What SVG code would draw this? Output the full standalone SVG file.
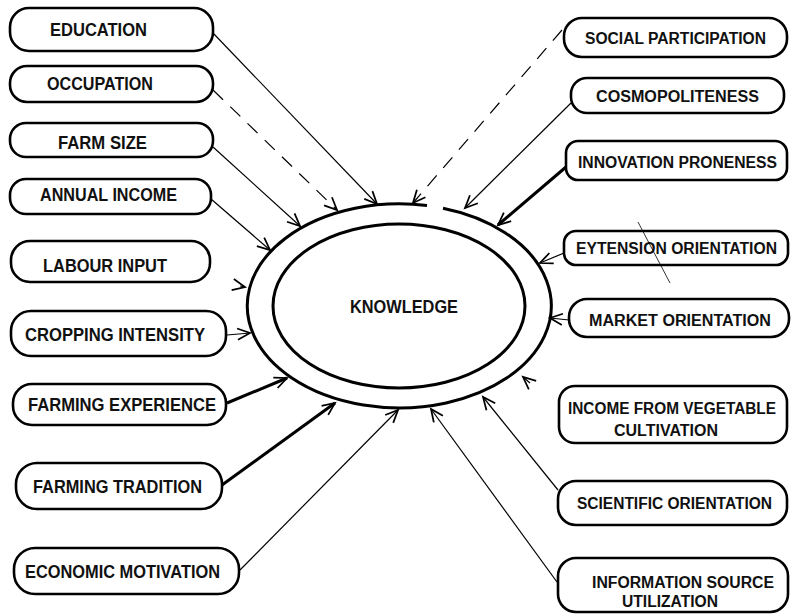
<svg xmlns="http://www.w3.org/2000/svg" width="795" height="614" viewBox="0 0 795 614">
<defs>
<style>
.box{fill:#fff;stroke:#000;stroke-width:2.6}
.t{font-family:"Liberation Sans Narrow","Liberation Sans",Arial,sans-serif;font-weight:bold;font-size:18px;fill:#111}
.r{font-size:16px}
.c{fill:none;stroke:#000;stroke-width:1.2}
.thick{stroke-width:3}
.dash{stroke-dasharray:14 10}
.ring{fill:none;stroke:#000;stroke-width:3}
</style>
<marker id="ah" markerUnits="userSpaceOnUse" markerWidth="20" markerHeight="20" refX="0" refY="0" viewBox="-12 -8 14 16" orient="auto" overflow="visible">
<path d="M-10,-4.5 L0,0 L-10,4.5" fill="none" stroke="#000" stroke-width="1.4"/>
</marker>
</defs>
<rect width="795" height="614" fill="#fff"/>

<g id="knowledge">
<path class="ring" d="M443,208.2 A152,102 0 1 1 427,205.6"/>
<ellipse class="ring" cx="399" cy="306" rx="126" ry="82"/>
<text class="t" x="350" y="313" textLength="108" lengthAdjust="spacingAndGlyphs" font-weight="normal">KNOWLEDGE</text>
</g>

<g id="connectors">
<path class="c" d="M213,33 L377,204" marker-end="url(#ah)"/>
<path class="c dash" d="M213,90 L337,210" marker-end="url(#ah)"/>
<path class="c" d="M213,147 L300,226" marker-end="url(#ah)"/>
<path class="c" d="M211,199 L270,250" marker-end="url(#ah)"/>
<path class="c" d="M240,286 L245,287" marker-end="url(#ah)"/>
<path class="c" d="M227,335 L250,333" marker-end="url(#ah)"/>
<path class="c thick" d="M227,403 L287,378" marker-end="url(#ah)"/>
<path class="c thick" d="M222,485 L335,403" marker-end="url(#ah)"/>
<path class="c" d="M240,570 L398,410" marker-end="url(#ah)"/>
<path class="c dash" d="M562,30 L413,203" marker-end="url(#ah)"/>
<path class="c" d="M571,103 L465,208" marker-end="url(#ah)"/>
<path class="c thick" d="M566,167 L498,225" marker-end="url(#ah)"/>
<path class="c" d="M564,253 L540,263" marker-end="url(#ah)"/>
<path class="c" d="M569,320 L550,318" marker-end="url(#ah)"/>
<path class="c" d="M530,383 L523,377" marker-end="url(#ah)"/>
<path class="c" d="M558,490 L483,397" marker-end="url(#ah)"/>
<path class="c" d="M557,582 L431,409" marker-end="url(#ah)"/>
</g>

<g id="education"><rect class="box" x="10" y="8" width="203" height="43" rx="19"/><text class="t" x="50" y="36" textLength="97" lengthAdjust="spacingAndGlyphs">EDUCATION</text></g>
<g id="occupation"><rect class="box" x="10" y="66" width="203" height="36" rx="17"/><text class="t" x="47" y="90" textLength="106" lengthAdjust="spacingAndGlyphs">OCCUPATION</text></g>
<g id="farm-size"><rect class="box" x="10" y="123" width="203" height="34" rx="16"/><text class="t" x="58" y="149" textLength="89" lengthAdjust="spacingAndGlyphs">FARM SIZE</text></g>
<g id="annual-income"><rect class="box" x="10" y="179" width="201" height="35" rx="16"/><text class="t" x="40" y="201" textLength="137" lengthAdjust="spacingAndGlyphs">ANNUAL INCOME</text></g>
<g id="labour-input"><rect class="box" x="11" y="241" width="199" height="41" rx="19"/><text class="t" x="43" y="272" textLength="124" lengthAdjust="spacingAndGlyphs">LABOUR INPUT</text></g>
<g id="cropping-intensity"><rect class="box" x="11" y="311" width="215" height="45" rx="20"/><text class="t" x="25" y="341" textLength="180" lengthAdjust="spacingAndGlyphs">CROPPING INTENSITY</text></g>
<g id="farming-experience"><rect class="box" x="13" y="384" width="213" height="41" rx="19"/><text class="t" x="28" y="411" textLength="188" lengthAdjust="spacingAndGlyphs">FARMING EXPERIENCE</text></g>
<g id="farming-tradition"><rect class="box" x="16" y="463" width="206" height="46" rx="21"/><text class="t" x="33" y="493" textLength="169" lengthAdjust="spacingAndGlyphs">FARMING TRADITION</text></g>
<g id="economic-motivation"><rect class="box" x="14" y="548" width="225" height="46" rx="21"/><text class="t" x="25" y="578" textLength="195" lengthAdjust="spacingAndGlyphs">ECONOMIC MOTIVATION</text></g>

<g id="social-participation"><rect class="box" x="564" y="18" width="223" height="39" rx="18"/><text class="t r" x="585" y="44" textLength="181" lengthAdjust="spacingAndGlyphs">SOCIAL PARTICIPATION</text></g>
<g id="cosmopoliteness"><rect class="box" x="571" y="78" width="213" height="35" rx="16"/><text class="t r" x="596" y="102" textLength="163" lengthAdjust="spacingAndGlyphs">COSMOPOLITENESS</text></g>
<g id="innovation-proneness"><rect class="box" x="566" y="141" width="221" height="39" rx="12"/><text class="t r" x="578" y="168" textLength="199" lengthAdjust="spacingAndGlyphs">INNOVATION PRONENESS</text></g>
<g id="extension-orientation"><rect class="box" x="564" y="231" width="224" height="34" rx="12"/><text class="t r" x="576" y="254" textLength="201" lengthAdjust="spacingAndGlyphs">EYTENSION ORIENTATION</text><path d="M638,222 L670,283" fill="none" stroke="#000" stroke-width="0.8"/></g>
<g id="market-orientation"><rect class="box" x="569" y="299" width="220" height="38" rx="18"/><text class="t r" x="589" y="326" textLength="182" lengthAdjust="spacingAndGlyphs">MARKET ORIENTATION</text></g>
<g id="income-vegetable"><rect class="box" x="559" y="386" width="228" height="57" rx="16"/><text class="t r" x="568" y="414" textLength="208" lengthAdjust="spacingAndGlyphs">INCOME FROM VEGETABLE</text><text class="t r" x="614" y="436" textLength="104" lengthAdjust="spacingAndGlyphs">CULTIVATION</text></g>
<g id="scientific-orientation"><rect class="box" x="558" y="481" width="229" height="44" rx="18"/><text class="t r" x="577" y="509" textLength="195" lengthAdjust="spacingAndGlyphs">SCIENTIFIC ORIENTATION</text></g>
<g id="information-source"><rect class="box" x="558" y="558" width="230" height="54" rx="18"/><text class="t r" x="592" y="588" textLength="182" lengthAdjust="spacingAndGlyphs">INFORMATION SOURCE</text><text class="t r" x="622" y="607" textLength="96" lengthAdjust="spacingAndGlyphs">UTILIZATION</text></g>
</svg>
